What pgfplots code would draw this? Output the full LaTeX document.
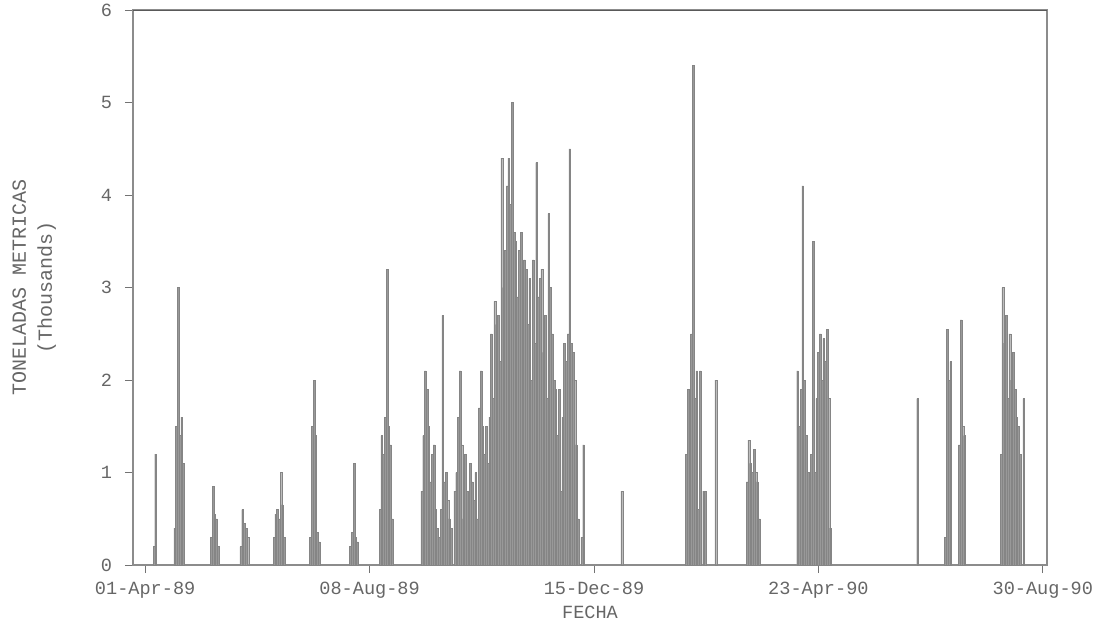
\documentclass[border=0pt]{standalone}
\usepackage{pgfplots}
\usepackage{pgfplotstable}
\usepackage{fontspec}
\setmainfont{Liberation Mono}
\pgfplotsset{compat=1.18}
\pgfplotstableread{
d v
5 0.2
6 1.2
17 0.4
18 1.5
19 3.0
20 1.4
21 1.6
22 1.1
38 0.3
39 0.85
40 0.55
41 0.5
42 0.2
55 0.2
56 0.6
57 0.45
58 0.4
59 0.3
74 0.3
75 0.55
76 0.6
77 0.5
78 1.0
79 0.65
80 0.3
95 0.3
96 1.5
97 2.0
98 1.4
99 0.35
100 0.25
118 0.2
119 0.35
120 1.1
121 0.3
122 0.25
135 0.6
136 1.4
137 1.2
138 1.6
139 3.2
140 1.5
141 1.3
142 0.5
159 0.8
160 1.4
161 2.1
162 1.9
163 1.5
164 0.9
165 1.2
166 1.3
167 0.6
168 0.4
169 0.3
170 0.6
171 2.7
172 0.9
173 1.0
174 0.7
175 0.5
176 0.4
178 0.8
179 1.0
180 1.6
181 2.1
182 1.3
183 0.5
184 1.2
185 0.8
186 0.6
187 1.1
188 0.9
189 0.7
190 1.0
191 0.5
192 1.7
193 2.1
194 1.5
195 1.2
196 1.5
197 1.1
198 1.6
199 2.5
200 1.8
201 2.85
202 2.6
203 2.7
204 2.2
205 4.4
206 3.0
207 3.4
208 4.1
209 4.4
210 3.9
211 5.0
212 3.6
213 3.5
214 2.9
215 3.4
216 3.6
217 2.8
218 3.3
219 3.2
220 2.6
221 3.1
222 2.0
223 3.3
224 2.4
225 4.35
226 2.9
227 3.1
228 3.2
229 2.3
230 2.7
231 1.8
232 3.8
233 3.0
234 2.5
235 2.0
236 1.9
237 1.4
238 1.9
239 0.8
240 1.6
241 2.4
242 2.2
243 2.5
244 4.5
245 2.4
246 2.3
247 2.0
248 1.3
249 0.5
251 0.3
252 1.3
274 0.8
311 1.2
312 1.9
313 1.7
314 2.5
315 5.4
316 1.8
317 2.1
318 0.6
319 2.1
321 0.8
322 0.8
328 2.0
346 0.9
347 1.35
348 1.1
349 1.0
350 1.25
351 1.0
352 0.9
353 0.5
375 2.1
376 1.5
377 1.9
378 4.1
379 2.0
380 1.4
381 1.0
382 0.9
383 1.2
384 3.5
385 1.0
386 1.8
387 2.3
388 2.5
389 2.0
390 2.45
391 2.2
392 2.55
393 1.8
394 0.4
444 1.8
460 0.3
461 2.55
462 2.0
463 2.2
468 1.3
469 2.65
470 1.5
471 1.4
492 1.2
493 3.0
494 2.4
495 2.7
496 1.8
497 2.5
498 2.0
499 2.3
500 1.9
501 1.6
502 1.5
503 1.2
505 1.8
}\datatable
\begin{document}
\begin{tikzpicture}
\path[use as bounding box] (-66.5pt,-39pt) rectangle (489.5pt,282.5pt);
\begin{axis}[
  at={(0,0)}, anchor=south west,
  width=457pt, height=277.5pt, scale only axis,
  xmin=-7, xmax=518.4, ymin=0, ymax=6,
  xtick={0,129,258,387,516},
  xticklabels={01-Apr-89,08-Aug-89,15-Dec-89,23-Apr-90,30-Aug-90},
  ytick={0,1,2,3,4,5,6},
  xtick pos=bottom, ytick pos=left,
  /pgf/number format/assume math mode=true,
  tick align=outside,
  major tick length=4pt,
  tick style={black!55, line width=0.5pt},
  axis line style={black!45, line width=0.6pt},
  ticklabel style={text=black!60, font=\fontsize{9.3}{11}\selectfont},
  yticklabel style={xshift=-3pt},
  xticklabel style={yshift=-1pt},
  xlabel={FECHA},
  xlabel style={text=black!60, font=\fontsize{9.3}{11}\selectfont, yshift=3pt},
  ylabel={TONELADAS METRICAS\\(Thousands)},
  ylabel style={text=black!60, font=\fontsize{10}{13}\selectfont, align=center,
    at={(axis description cs:-0.108,0.5)}, anchor=center},
  clip=true,
]
\addplot[ybar, bar width=1, fill=black!40, draw=black!48, line width=0.15pt]
  table[x=d, y=v] {\datatable};
\draw[black!65, line width=1.1pt] (rel axis cs:0,1) -- (rel axis cs:1,1);
\end{axis}
\end{tikzpicture}
\end{document}
